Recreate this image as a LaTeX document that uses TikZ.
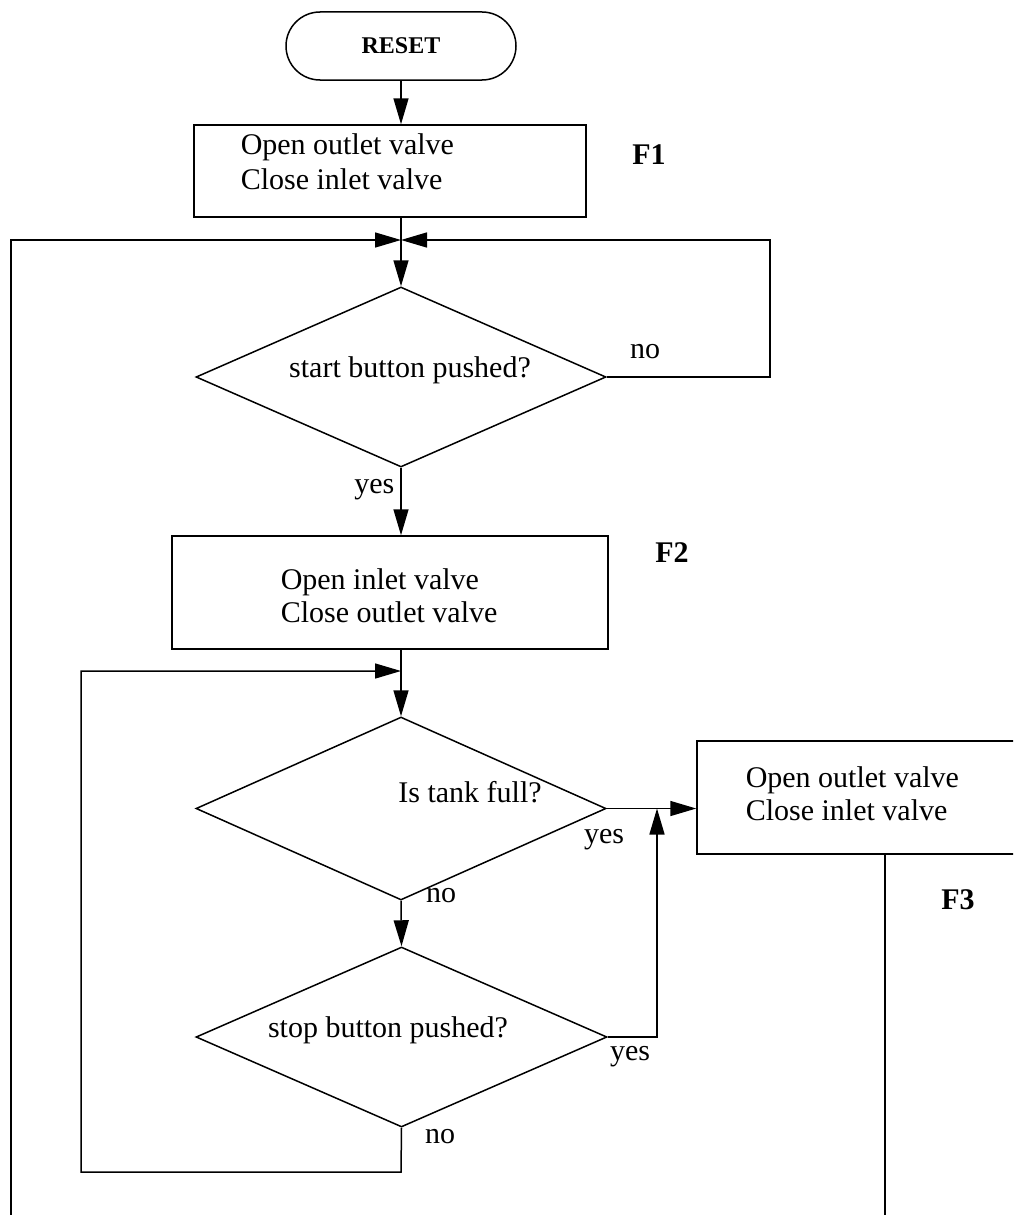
\documentclass[tikz,border=0pt]{standalone}
\usepackage{fontspec}
\setmainfont{Liberation Serif}
\usetikzlibrary{shapes.geometric,arrows.meta}
\begin{document}
\begin{tikzpicture}[x=1pt,y=-1pt,
  line width=1.5pt,
  flow/.style={-{Triangle[length=26pt,width=15pt]}},
  proc/.style={draw, rectangle, inner sep=0pt},
  decision/.style={draw, diamond, inner sep=0pt},
  term/.style={draw, rectangle, rounded corners=34pt, inner sep=0pt,
    minimum width=230pt, minimum height=68pt,
    font=\fontsize{24}{26}\selectfont\bfseries},
  txt/.style={inner sep=0pt, align=left, font=\fontsize{30}{33}\selectfont},
  tag/.style={inner sep=0pt, font=\fontsize{30}{33}\selectfont\bfseries}
]
\useasboundingbox (0,0) rectangle (1013,1215);
\clip (0,0) rectangle (1013,1215);
\fill[white] (0,0) rectangle (1013,1215);

% start terminal and first step
\node[term] (reset) at (401,46) {RESET};
\node[proc, minimum width=392pt, minimum height=92pt] (f1) at (390,171) {};
\node[txt, anchor=west, font=\fontsize{30}{35}\selectfont] (f1t) at (240,162) {Open outlet valve\\Close inlet valve};
\node[tag] (f1l) at (649,155) {F1};
\coordinate (j1) at (401,240);

% start decision
\node[decision, minimum width=410pt, minimum height=180pt] (d1) at (401,377) {};
\node[txt] (d1t) at (410,370) {start button pushed?};
\node[txt] (d1no) at (645,352) {no};
\node[txt, anchor=east] (d1yes) at (395,490) {yes};

% filling step
\node[proc, minimum width=436pt, minimum height=113pt] (f2) at (390,592.5) {};
\node[txt, anchor=west] (f2t) at (280,596) {Open inlet valve\\Close outlet valve};
\node[tag] (f2l) at (672,553) {F2};
\coordinate (j2) at (401,671);

% tank full decision
\node[decision, minimum width=410pt, minimum height=183pt] (d2) at (401,808.5) {};
\node[txt] (d2t) at (470,792) {Is tank full?};
\node[txt] (d2yes) at (604,840) {yes};
\node[txt] (d2no) at (441,896) {no};

% emptying step (runs past the right edge)
\node[proc, minimum width=343pt, minimum height=113pt] (f3) at (868.5,797.5) {};
\node[txt, anchor=west] (f3t) at (745,794) {Open outlet valve\\Close inlet valve};
\node[tag] (f3l) at (958,900) {F3};

% stop decision
\node[decision, minimum width=411pt, minimum height=180pt] (d3) at (401.5,1037) {};
\node[txt] (d3t) at (388,1030) {stop button pushed?};
\node[txt] (d3yes) at (630,1057) {yes};
\node[txt] (d3no) at (440,1137) {no};

% helper points for the loops
\coordinate (lb) at (11,1215);
\coordinate (r1) at (770,377);
\coordinate (r3) at (657,1037);
\coordinate (b3) at (401,1172);
\coordinate (l3) at (81,1172);
\coordinate (f3b) at (885,1215);

% connectors
\draw[flow] (reset.south) -- (reset.south |- f1.north);
\draw (f1.south -| j1) -- (j1);
\draw[flow] (j1) -- (d1.north);
\draw[flow] (lb) -- (lb |- j1) -- (j1);
\draw[flow] (d1.east) -- (r1) -- (r1 |- j1) -- (j1);
\draw[flow] (d1.south) -- (d1.south |- f2.north);
\draw (f2.south -| j2) -- (j2);
\draw[flow] (j2) -- (d2.north);
\draw[flow] (d2.east) -- (d2.east -| f3.west);
\draw[flow] (d2.south) -- (d3.north);
\draw[flow] (d3.east) -- (r3) -- (r3 |- d2.east);
\draw[flow] (d3.south) -- (b3) -- (l3) -- (l3 |- j2) -- (j2);
\draw (f3.south -| f3b) -- (f3b);
\end{tikzpicture}
\end{document}
